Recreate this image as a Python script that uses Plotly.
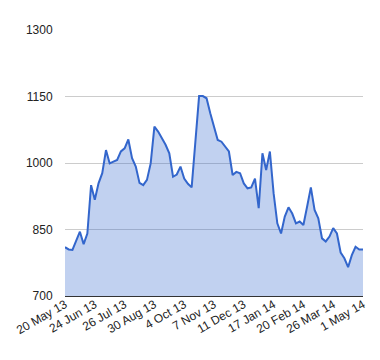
import plotly.graph_objects as go

tick_labels = ["20 May 13", "24 Jun 13", "26 Jul 13", "30 Aug 13", "4 Oct 13",
               "7 Nov 13", "11 Dec 13", "17 Jan 14", "20 Feb 14", "26 Mar 14", "1 May 14"]
points_per_label = 24   # trading days between labelled categories
sample_step = 3         # one value read every 3 trading days

price = [810, 805, 804, 826, 845, 817, 841, 950, 917, 954,
         977, 1029, 999, 1003, 1007, 1026, 1033, 1053, 1011, 992,
         955, 950, 962, 999, 1082, 1071, 1056, 1041, 1022, 969,
         974, 992, 965, 953, 945, 1050, 1151, 1151, 1146, 1112,
         1084, 1052, 1048, 1037, 1026, 973, 980, 977, 954, 943,
         945, 965, 898, 1022, 984, 1026, 932, 864, 841, 879,
         900, 886, 864, 868, 860, 902, 945, 894, 875, 830,
         823, 834, 853, 841, 798, 785, 765, 792, 811, 805,
         805]

y_ticks = [700, 850, 1000, 1150, 1300]

x = [i * sample_step for i in range(len(price))]

fig = go.Figure(go.Scatter(
    x=x, y=price, mode="lines",
    line=dict(color="#3366cc", width=2),
    fill="tozeroy", fillcolor="rgba(51,102,204,0.3)",
    hoverinfo="skip",
))

# the page body has an 8px default margin, so the figure is shrunk by 8px
fig.update_layout(
    width=372, height=352,
    margin=dict(l=57, r=17, t=22, b=64, autoexpand=False),
    plot_bgcolor="white", paper_bgcolor="white",
    showlegend=False,
    font=dict(family="Liberation Sans, Arial, sans-serif", size=12, color="#222222"),
)
fig.update_xaxes(
    range=[0, (len(tick_labels) - 1) * points_per_label],
    tickmode="array",
    tickvals=[i * points_per_label for i in range(len(tick_labels))],
    ticktext=tick_labels,
    tickangle=-30,
    ticklabelstandoff=-4,
    automargin=False,
    showgrid=False, zeroline=False,
    showline=True, linecolor="#333333", linewidth=1,
    ticks="",
)
fig.update_yaxes(
    range=[700, 1300],
    tickmode="array", tickvals=y_ticks,
    gridcolor="#cccccc", gridwidth=1,
    zeroline=False, showline=False,
    ticks="outside", ticklen=9, tickcolor="rgba(0,0,0,0)",
    automargin=False,
)

fig.write_html("out.html")
